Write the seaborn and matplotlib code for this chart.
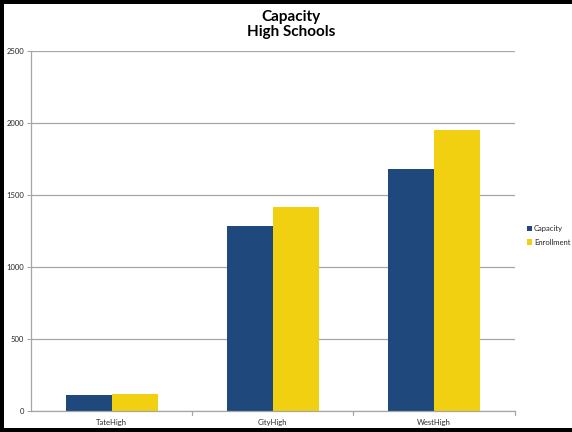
import matplotlib
matplotlib.use("Agg")
import matplotlib.pyplot as plt
import seaborn as sns
import pandas as pd
from matplotlib.patches import Rectangle

schools = ["TateHigh", "CityHigh", "WestHigh"]
capacity = [110, 1285, 1680]
enrollment = [120, 1418, 1950]
series_names = ["Capacity", "Enrollment"]
yticks = [0, 500, 1000, 1500, 2000, 2500]

df = pd.DataFrame({
    "School": schools * 2,
    "Series": [series_names[0]] * 3 + [series_names[1]] * 3,
    "Value": capacity + enrollment,
})

sns.set_theme(style="white")
plt.rcParams["font.family"] = ["Lato", "DejaVu Sans"]

fig = plt.figure(figsize=(5.72, 4.32), dpi=100)
ax = fig.add_axes([0.054, 0.0486, 0.846, 0.8334])

sns.barplot(data=df, x="School", y="Value", hue="Series", order=schools,
            hue_order=series_names, palette=["#1F497D", "#F0D010"],
            width=0.57, gap=0, saturation=1, edgecolor="none", linewidth=0,
            errorbar=None, ax=ax)

ax.set_ylim(0, 2500)
ax.set_xlim(-0.5, 2.5)
ax.set_yticks(yticks)
ax.set_yticklabels([str(v) for v in yticks], fontsize=5.5)
ax.tick_params(axis="x", labelsize=5.5, length=0, pad=6)
ax.tick_params(axis="y", length=3, width=0.8, color="#A6A6A6", pad=2, left=True)
ax.set_xlabel("")
ax.set_ylabel("")
ax.yaxis.grid(True, color="#A6A6A6", linewidth=0.9)
ax.set_axisbelow(True)
for s in ["top", "right"]:
    ax.spines[s].set_visible(False)
for s in ["left", "bottom"]:
    ax.spines[s].set_color("#A6A6A6")
    ax.spines[s].set_linewidth(0.9)
# category dividers on x-axis
for xpos in [0.5, 1.5, 2.5]:
    ax.plot([xpos, xpos], [0, -25], color="#A6A6A6", lw=0.9, clip_on=False)

fig.text(0.509, 0.976, "Capacity\nHigh Schools", fontsize=11, fontweight="bold",
         ha="center", va="top", linespacing=1.1, color="black")

handles, labels = ax.get_legend_handles_labels()
ax.legend(handles, labels, loc="upper left", bbox_to_anchor=(0.921, 0.479),
          bbox_transform=fig.transFigure, frameon=False, fontsize=5.5,
          borderpad=0, borderaxespad=0,
          handlelength=0.7, handleheight=0.7, handletextpad=0.25, labelspacing=0.85)

# black frame on left, top and bottom edges (right side open, as in reference)
W, H = 572.0, 432.0
t = 4.0
for (x0, y0, w, h) in [(0, 0, t / W, 1), (0, 1 - t / H, 1, t / H), (0, 0, 1, t / H)]:
    fig.patches.append(Rectangle((x0, y0), w, h, transform=fig.transFigure,
                                 facecolor="black", edgecolor="none", zorder=10))

fig.savefig("out.png", dpi=100)
